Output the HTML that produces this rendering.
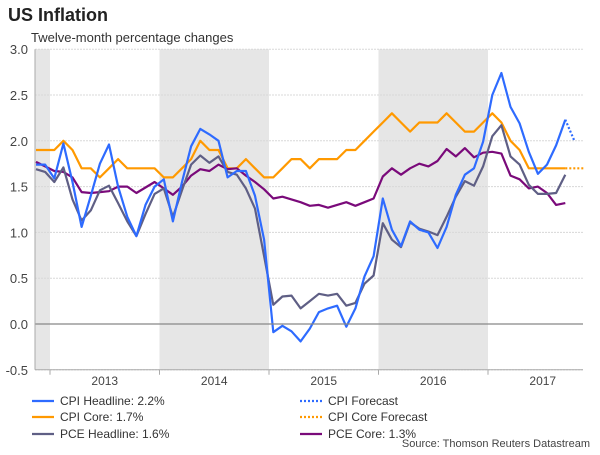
<!DOCTYPE html>
<html><head><meta charset="utf-8"><style>
body{margin:0;background:#fff;width:600px;height:450px;overflow:hidden;font-family:"Liberation Sans",sans-serif}
</style></head><body>
<svg width="600" height="450" xmlns="http://www.w3.org/2000/svg" font-family="Liberation Sans, sans-serif">
<text x="8" y="21" font-size="18" font-weight="bold" fill="#222">US Inflation</text>
<text x="31" y="42" font-size="13" fill="#333">Twelve-month percentage changes</text>
<g id="shade"></g><g id="grid"></g><g id="series"></g><g id="axes"></g><g id="legend"></g>
<text x="590" y="447" font-size="11" fill="#444" text-anchor="end">Source: Thomson Reuters Datastream</text>
</svg>
<script>
const cpiHeadline=[1.74,1.74,1.59,1.97,1.55,1.06,1.4,1.75,1.96,1.5,1.17,0.96,1.3,1.5,1.58,1.12,1.55,1.94,2.13,2.07,2.0,1.6,1.67,1.67,1.4,0.92,-0.09,-0.02,-0.08,-0.19,-0.05,0.13,0.17,0.2,-0.03,0.17,0.52,0.74,1.37,1.03,0.85,1.12,1.03,1.0,0.83,1.06,1.41,1.63,1.7,1.99,2.5,2.74,2.37,2.19,1.88,1.64,1.74,1.95,2.23];
const cpiCore=[1.9,1.9,1.9,2.0,1.9,1.7,1.7,1.6,1.7,1.8,1.7,1.7,1.7,1.7,1.6,1.6,1.7,1.8,2.0,1.9,1.9,1.7,1.7,1.8,1.7,1.6,1.6,1.7,1.8,1.8,1.7,1.8,1.8,1.8,1.9,1.9,2.0,2.1,2.2,2.3,2.2,2.1,2.2,2.2,2.2,2.3,2.2,2.1,2.1,2.2,2.3,2.2,2.0,1.9,1.7,1.7,1.7,1.7,1.7];
const pceHeadline=[1.69,1.66,1.55,1.71,1.36,1.13,1.24,1.46,1.51,1.32,1.12,0.96,1.2,1.42,1.48,1.17,1.46,1.74,1.84,1.76,1.83,1.66,1.63,1.48,1.26,0.74,0.21,0.3,0.31,0.17,0.25,0.33,0.31,0.33,0.2,0.23,0.44,0.53,1.1,0.92,0.84,1.11,1.04,1.01,0.97,1.17,1.39,1.56,1.51,1.72,2.05,2.17,1.83,1.74,1.52,1.42,1.42,1.43,1.63];
const pceCore=[1.77,1.72,1.67,1.66,1.6,1.44,1.43,1.44,1.45,1.5,1.5,1.43,1.49,1.55,1.48,1.41,1.5,1.62,1.69,1.67,1.74,1.69,1.7,1.62,1.55,1.47,1.37,1.39,1.36,1.33,1.29,1.3,1.27,1.3,1.33,1.29,1.33,1.37,1.61,1.7,1.63,1.7,1.75,1.72,1.78,1.91,1.83,1.92,1.82,1.87,1.88,1.86,1.62,1.58,1.48,1.5,1.43,1.3,1.32];
const cpiForecast=[2.23,2.0];
const cpiCoreForecast=[1.7,1.7,1.7];
const yTicks=[3.0,2.5,2.0,1.5,1.0,0.5,0.0,-0.5];
const years=["2013","2014","2015","2016","2017"];
const NS="http://www.w3.org/2000/svg";
const X0=36,DX=9.125,Y0=324,PU=91.6,L=35,R=583;
const xs=i=>X0+i*DX, ys=v=>Y0-v*PU;
const yearX=k=>50+k*109.5;
function mk(p,t,a){const e=document.createElementNS(NS,t);for(const k in a)e.setAttribute(k,a[k]);document.getElementById(p).appendChild(e);return e;}
[[L,50],[yearX(1),yearX(2)],[yearX(3),yearX(4)]].forEach((s,k)=>{const r=mk('shade','rect',{x:s[0],y:ys(3),width:s[1]-s[0],height:ys(-0.5)-ys(3),fill:'#e6e6e6'});

});
yTicks.forEach(v=>{if(v!==0){const g=mk('grid','line',{x1:L,x2:R,y1:ys(v),y2:ys(v),stroke:'#d8d8d8','stroke-dasharray':'2,1'});

}
const t=mk('axes','text',{x:28,y:ys(v)+5,'font-size':13,fill:'#444','text-anchor':'end'});t.textContent=v.toFixed(1);

});
const z=mk('axes','line',{x1:L,x2:R,y1:ys(0),y2:ys(0),stroke:'#888','stroke-width':1.3});


const ya=mk('axes','line',{x1:L,x2:L,y1:ys(3),y2:ys(-0.5),stroke:'#aaa'});


const xa=mk('axes','line',{x1:L,x2:R,y1:ys(-0.5),y2:ys(-0.5),stroke:'#aaa'});


for(let k=0;k<=4;k++){mk('axes','line',{x1:yearX(k),x2:yearX(k),y1:ys(-0.5),y2:ys(-0.5)+5,stroke:'#aaa'});}
years.forEach((y,k)=>{const t=mk('axes','text',{x:yearX(k)+54.75,y:385,'font-size':12,fill:'#444','text-anchor':'middle'});t.textContent=y;

});
function line(arr,start,col,dash,name){const d=arr.map((v,i)=>(i?'L':'M')+xs(start+i).toFixed(1)+','+ys(v).toFixed(1)).join('');
const p=mk('series','path',{d:d,fill:'none',stroke:col,'stroke-width':2.2,'stroke-linejoin':'round'});if(dash)p.setAttribute('stroke-dasharray',dash);

}
line(cpiCore,0,'#ff9900',null,'cpi-core-line');
line(pceCore,0,'#7a0a7a',null,'pce-core-line');
line(pceHeadline,0,'#5f5f85',null,'pce-headline-line');
line(cpiHeadline,0,'#2e6bff',null,'cpi-headline-line');
line(cpiForecast,58,'#2e6bff','2,2','cpi-forecast-line');
line(cpiCoreForecast,58,'#ff9900','2,2','cpi-core-forecast-line');
const leg=[[32,401,'#2e6bff',null,'CPI Headline: 2.2%'],[300,401,'#2e6bff','2,2','CPI Forecast'],[32,417,'#ff9900',null,'CPI Core: 1.7%'],[300,417,'#ff9900','2,2','CPI Core Forecast'],[32,434,'#5f5f85',null,'PCE Headline: 1.6%'],[300,434,'#7a0a7a',null,'PCE Core: 1.3%']];
leg.forEach(l=>{const s=mk('legend','line',{x1:l[0],x2:l[0]+22,y1:l[1],y2:l[1],stroke:l[2],'stroke-width':2.2});if(l[3])s.setAttribute('stroke-dasharray',l[3]);


const t=mk('legend','text',{x:l[0]+28,y:l[1]+4,'font-size':12,fill:'#333'});t.textContent=l[4];

});
</script>
</body></html>
